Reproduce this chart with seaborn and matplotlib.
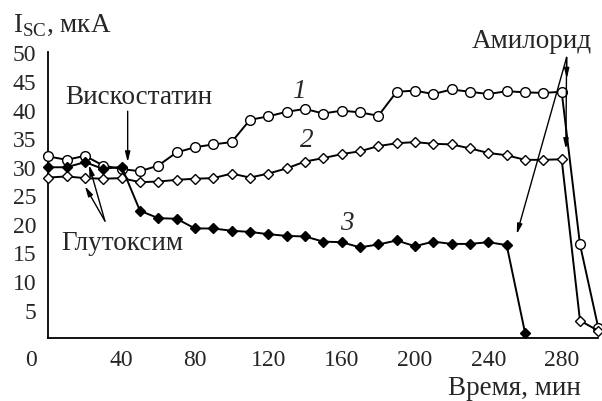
# Short-circuit current vs time, three experiments
import matplotlib
matplotlib.use('Agg')
import matplotlib.pyplot as plt
import matplotlib.transforms as mtransforms
import seaborn as sns
import pandas as pd

# time points (min) and current values (uA)
time_12 = [0, 10, 20, 30, 40, 50, 60, 70, 80, 90, 100, 110, 120, 130, 140, 150,
           160, 170, 180, 190, 200, 210, 220, 230, 240, 250, 260, 270, 280, 290, 300]
curve_1 = [31.8, 31.2, 31.9, 30.2, 29.6, 29.2, 30.2, 32.5, 33.4, 33.9, 34.3, 38.2,
           38.8, 39.6, 40.1, 39.3, 39.8, 39.5, 38.9, 43.1, 43.3, 42.7, 43.5, 43.1,
           42.7, 43.2, 43.0, 42.9, 43.1, 16.4, 1.8]
curve_2 = [28.1, 28.3, 28.0, 27.9, 28.0, 27.3, 27.4, 27.7, 27.9, 28.0, 28.8, 28.1,
           28.8, 29.7, 30.9, 31.5, 32.2, 32.7, 33.6, 34.1, 34.3, 34.0, 33.9, 33.2,
           32.4, 32.0, 31.2, 31.2, 31.3, 3.1, 1.3]
time_3 = [0, 10, 20, 30, 40, 50, 60, 70, 80, 90, 100, 110, 120, 130, 140, 150,
          160, 170, 180, 190, 200, 210, 220, 230, 240, 250, 260]
curve_3 = [29.9, 29.9, 30.8, 29.6, 30.0, 22.3, 21.0, 20.9, 19.2, 19.2, 18.8, 18.6,
           18.2, 17.9, 17.8, 16.9, 16.8, 15.9, 16.4, 17.1, 16.1, 16.9, 16.5, 16.5,
           16.8, 16.3, 1.0]

x_ticks = [0, 40, 80, 120, 160, 200, 240, 280]
y_ticks = [5, 10, 15, 20, 25, 30, 35, 40, 45, 50]

df12 = pd.DataFrame({'t': time_12, 'c1': curve_1, 'c2': curve_2})
df3 = pd.DataFrame({'t': time_3, 'c3': curve_3})

sns.set_style('white')
plt.rcParams['font.family'] = ['Liberation Serif', 'DejaVu Serif']
plt.rcParams['mathtext.fontset'] = 'custom'
plt.rcParams['mathtext.rm'] = 'Liberation Serif'
FS = 17     # tick numbers
FT = 19.5   # words

fig = plt.figure(figsize=(6.02, 4.02), dpi=100)
ax = fig.add_axes([0.0802, 0.156, 0.9137, 0.7114])

line_kw = dict(color='black', linewidth=1.4, markeredgecolor='black',
               markeredgewidth=1.0, clip_on=False)
sns.lineplot(data=df12, x='t', y='c1', ax=ax, marker='o', markersize=7,
             markerfacecolor='white', zorder=3, **line_kw)
sns.lineplot(data=df12, x='t', y='c2', ax=ax, marker='D', markersize=5.2,
             markerfacecolor='white', zorder=3, **line_kw)
sns.lineplot(data=df3, x='t', y='c3', ax=ax, marker='D', markersize=5.6,
             markerfacecolor='black', zorder=4, **line_kw)

sns.despine(ax=ax)
for s in ['left', 'bottom']:
    ax.spines[s].set_linewidth(1.3)
    ax.spines[s].set_color('black')

ax.set_xticks(x_ticks)
ax.set_xticklabels([str(v) for v in x_ticks], fontsize=FS)
ax.set_xticks(range(0, 301, 10), minor=True)
ax.tick_params(axis='x', which='major', length=0, pad=8)
ax.tick_params(axis='x', which='minor', direction='in', length=6.5, width=1.0)
ax.set_yticks(y_ticks)
ax.set_yticklabels([str(v) for v in y_ticks], fontsize=FS)
ax.tick_params(axis='y', direction='in', length=6.5, width=1.0, pad=8.5)
ax.set_xlim(0, 300)
ax.set_ylim(0, 50)
ax.set_xlabel('')
ax.set_ylabel('')
ax.grid(False)

# the "0" is printed to the left of the origin
lbl0 = ax.get_xticklabels()[0]
lbl0.set_transform(lbl0.get_transform() +
                   mtransforms.ScaledTranslation(-0.17, 0, fig.dpi_scale_trans))

fig.text(13 / 602, 1 - 31.5 / 402, r'I$_{\mathrm{SC}}$, мкА', fontsize=FT,
         ha='left', va='baseline')
fig.text(514 / 602, 1 - 389 / 402, 'Время, мин', fontsize=FT, ha='center', va='center')

ax.text(49.5, 41.1, 'Вискостатин', fontsize=FT, ha='center', va='baseline')
ax.text(40.5, 15.6, 'Глутоксим', fontsize=FT, ha='center', va='baseline')
ax.text(263.7, 50.9, 'Амилорид', fontsize=FT, ha='center', va='baseline', clip_on=False)
ax.text(136.4, 43.4, '1', fontsize=FT, style='italic', ha='center', va='center')
ax.text(141.1, 34.7, '2', fontsize=FT, style='italic', ha='center', va='center')
ax.text(162.7, 20.2, '3', fontsize=FT, style='italic', ha='center', va='center')

arrow = dict(arrowstyle='-|>,head_length=0.6,head_width=0.15', color='black',
             lw=1.0, shrinkA=0, shrinkB=0)
ax.annotate('', xy=(43.3, 30.8), xytext=(43.3, 39.7), arrowprops=arrow)
ax.annotate('', xy=(20.0, 26.6), xytext=(30.9, 20.5), arrowprops=arrow)
ax.annotate('', xy=(22.2, 30.3), xytext=(30.9, 20.5), arrowprops=arrow)
for tx, ty in [(282.8, 45.4), (282.3, 33.1), (255.5, 18.2)]:
    ax.annotate('', xy=(tx, ty), xytext=(282.7, 49.1), arrowprops=arrow,
                annotation_clip=False)

fig.savefig('out.png', dpi=100)
